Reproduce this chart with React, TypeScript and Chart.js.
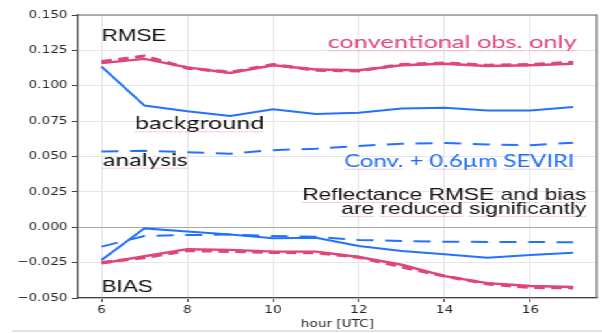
import React, { useEffect, useRef } from 'react';
import { Chart, registerables } from 'chart.js';

Chart.register(...registerables);

// ---------- data ----------
const hours = [6, 7, 8, 9, 10, 11, 12, 13, 14, 15, 16, 17];

// RMSE
const rmseConvSolid = [0.116, 0.119, 0.113, 0.109, 0.1145, 0.1115, 0.111, 0.1145, 0.1155, 0.114, 0.1145, 0.1155];
const rmseConvDashed = [0.117, 0.121, 0.1125, 0.1095, 0.115, 0.111, 0.1105, 0.115, 0.116, 0.1145, 0.115, 0.1165];
const rmseBackground = [0.1135, 0.086, 0.082, 0.0786, 0.0833, 0.08, 0.081, 0.084, 0.0845, 0.0825, 0.0825, 0.085];
const rmseAnalysis = [0.0535, 0.054, 0.053, 0.052, 0.0545, 0.0555, 0.0575, 0.059, 0.0595, 0.0585, 0.058, 0.0598];

// BIAS
const biasConvSolid = [-0.0255, -0.0205, -0.0155, -0.016, -0.0172, -0.0172, -0.021, -0.0265, -0.0345, -0.0395, -0.0415, -0.0422];
const biasConvDashed = [-0.025, -0.0215, -0.0165, -0.017, -0.0178, -0.018, -0.0212, -0.028, -0.0345, -0.04, -0.0425, -0.0428];
const biasBackground = [-0.0231, -0.0008, -0.003, -0.0052, -0.0078, -0.0074, -0.0133, -0.0168, -0.0191, -0.0215, -0.0196, -0.018];
const biasAnalysis = [-0.0137, -0.0062, -0.0055, -0.0052, -0.0062, -0.0067, -0.009, -0.0097, -0.0102, -0.0104, -0.0104, -0.0106];

// ticks
const xTickValues = [6, 8, 10, 12, 14, 16];
const yTickValues = [-0.05, -0.025, 0, 0.025, 0.05, 0.075, 0.1, 0.125, 0.15];
const xTitle = 'hour [UTC]';

// ---------- styles ----------
const PINK = '#e0457a';
const BLUE = '#2271ff';
const BLUE_TEXT = '#1e6ff0';
const INK = '#111111';
const STRETCH_W = 463;

type Annot = {
  text: string; x: number; y: number; w: number; align: 'left' | 'right';
  font: string; color: string; underline: boolean;
};

const annotations: Annot[] = [
  { text: 'RMSE', x: 6.0, y: 0.1318, w: 1.51, align: 'left', font: '17px "Liberation Sans"', color: INK, underline: false },
  { text: 'BIAS', x: 6.0, y: -0.046, w: 1.19, align: 'left', font: '17px "Liberation Sans"', color: INK, underline: false },
  { text: 'background', x: 6.78, y: 0.0692, w: 3.02, align: 'left', font: '18px Lato', color: INK, underline: true },
  { text: 'analysis', x: 6.03, y: 0.0435, w: 1.98, align: 'left', font: '18px Lato', color: INK, underline: true },
  { text: 'conventional obs. only', x: 17.08, y: 0.1265, w: 5.81, align: 'right', font: '18px Lato', color: PINK, underline: true },
  { text: 'Conv. + 0.6µm SEVIRI', x: 17.03, y: 0.0428, w: 5.37, align: 'right', font: '17px Lato', color: BLUE_TEXT, underline: true },
  { text: 'Reflectance RMSE and bias', x: 17.31, y: 0.0193, w: 6.63, align: 'right', font: '17px "Liberation Sans"', color: INK, underline: true },
  { text: 'are reduced significantly', x: 17.31, y: 0.0094, w: 5.72, align: 'right', font: '17px "Liberation Sans"', color: INK, underline: true },
];

const toPts = (arr: number[]) => hours.map((h, i) => ({ x: h, y: arr[i] }));

const annotationPlugin = {
  id: 'textAnnotations',
  afterDatasetsDraw(chart: any) {
    const { ctx, scales } = chart;
    const xs = scales.x;
    const ys = scales.y;
    ctx.save();
    for (const a of annotations) {
      ctx.font = a.font;
      const natural = ctx.measureText(a.text).width;
      const anchor = xs.getPixelForValue(a.x);
      const targetW = xs.getPixelForValue(a.x + a.w) - xs.getPixelForValue(a.x);
      const sx = targetW / natural;
      const left = a.align === 'right' ? anchor - targetW : anchor;
      const base = ys.getPixelForValue(a.y);
      ctx.save();
      ctx.translate(left, base);
      ctx.scale(sx, 1);
      ctx.fillStyle = a.color;
      ctx.textAlign = 'left';
      ctx.textBaseline = 'alphabetic';
      ctx.fillText(a.text, 0, 0);
      ctx.restore();
      if (a.underline) {
        const words = a.text.split(' ');
        ctx.save();
        ctx.strokeStyle = 'rgba(232,80,80,0.55)';
        ctx.lineWidth = 1;
        ctx.setLineDash([1, 1]);
        let prefix = '';
        words.forEach((wd, i) => {
          const pre = i === 0 ? '' : prefix + ' ';
          if (/[A-Za-z]/.test(wd)) {
            const off = ctx.measureText(pre).width * sx;
            const ww = ctx.measureText(wd).width * sx;
            ctx.beginPath();
            ctx.moveTo(left + off, base + 2.5);
            ctx.lineTo(left + off + ww, base + 2.5);
            ctx.stroke();
          }
          prefix = i === 0 ? wd : prefix + ' ' + wd;
        });
        ctx.restore();
      }
    }
    ctx.restore();
  },
  afterDraw(chart: any) {
    const { ctx, chartArea } = chart;
    const { left, right, top, bottom } = chartArea;
    ctx.save();
    ctx.strokeStyle = '#666666';
    ctx.lineWidth = 1.2;
    ctx.beginPath();
    ctx.moveTo(left, top);
    ctx.lineTo(right, top);
    ctx.lineTo(right, bottom);
    ctx.stroke();
    ctx.fillStyle = '#e3e3e3';
    ctx.fillRect(9, 330, chart.width, 2);
    ctx.restore();
  },
};

export default function App() {
  const canvasRef = useRef<HTMLCanvasElement | null>(null);

  useEffect(() => {
    if (!canvasRef.current) return;
    const tickFont = { family: '"DejaVu Sans"', size: 10.5 };
    const chart = new Chart(canvasRef.current, {
      type: 'line',
      data: {
        datasets: [
          { data: toPts(rmseConvDashed), borderColor: PINK, borderWidth: 3.2, borderDash: [8, 5] },
          { data: toPts(biasConvDashed), borderColor: PINK, borderWidth: 3.2, borderDash: [8, 5] },
          { data: toPts(rmseConvSolid), borderColor: PINK, borderWidth: 2.4 },
          { data: toPts(biasConvSolid), borderColor: PINK, borderWidth: 2.4 },
          { data: toPts(rmseAnalysis), borderColor: BLUE, borderWidth: 2, borderDash: [13, 9] },
          { data: toPts(biasAnalysis), borderColor: BLUE, borderWidth: 2, borderDash: [13, 9] },
          { data: toPts(rmseBackground), borderColor: BLUE, borderWidth: 2 },
          { data: toPts(biasBackground), borderColor: BLUE, borderWidth: 2 },
        ].map((d) => ({ ...d, pointRadius: 0, tension: 0, fill: false, borderCapStyle: 'butt' as const })),
      },
      options: {
        animation: false,
        responsive: true,
        maintainAspectRatio: false,
        devicePixelRatio: 1,
        events: [],
        layout: { padding: { top: 15, right: 4, left: 0, bottom: 0 } },
        plugins: { legend: { display: false }, tooltip: { enabled: false }, title: { display: false } },
        scales: {
          x: {
            type: 'linear',
            min: 5.45,
            max: 17.55,
            afterBuildTicks: (s: any) => { s.ticks = xTickValues.map((v) => ({ value: v })); },
            afterFit: (s: any) => { s.height = 35; },
            ticks: { font: tickFont, color: '#222', padding: 2, maxRotation: 0, callback: (v: any) => String(v) },
            grid: { color: '#e6e6e6', lineWidth: 1, tickLength: 4, tickColor: '#444' },
            border: { color: '#444', width: 1.3 },
            title: { display: true, text: xTitle, font: tickFont, color: '#222', padding: { top: 0, bottom: 2 } },
          },
          y: {
            type: 'linear',
            min: -0.05,
            max: 0.15,
            afterBuildTicks: (s: any) => { s.ticks = yTickValues.map((v) => ({ value: v })); },
            afterFit: (s: any) => { s.width = 60; },
            ticks: {
              font: tickFont, color: '#222', padding: 3,
              callback: (v: any) => {
                const s = Number(v).toFixed(3);
                return s.startsWith('-') ? '\u2212' + s.slice(1) : s;
              },
            },
            grid: {
              color: (c: any) => (c.tick && Math.abs(c.tick.value) < 1e-9 ? '#a8a8a8' : '#e6e6e6'),
              lineWidth: 1,
              tickLength: 5,
              tickColor: '#444',
            },
            border: { color: '#444', width: 1.3 },
          },
        },
      },
      plugins: [annotationPlugin],
    } as any);
    return () => chart.destroy();
  }, []);

  return (
    <div
      style={{
        position: 'absolute',
        left: 0,
        top: 0,
        width: STRETCH_W,
        height: 333,
        transform: `scaleX(${602 / STRETCH_W})`,
        transformOrigin: '0 0',
        background: '#fff',
      }}
    >
      <canvas ref={canvasRef} />
    </div>
  );
}
